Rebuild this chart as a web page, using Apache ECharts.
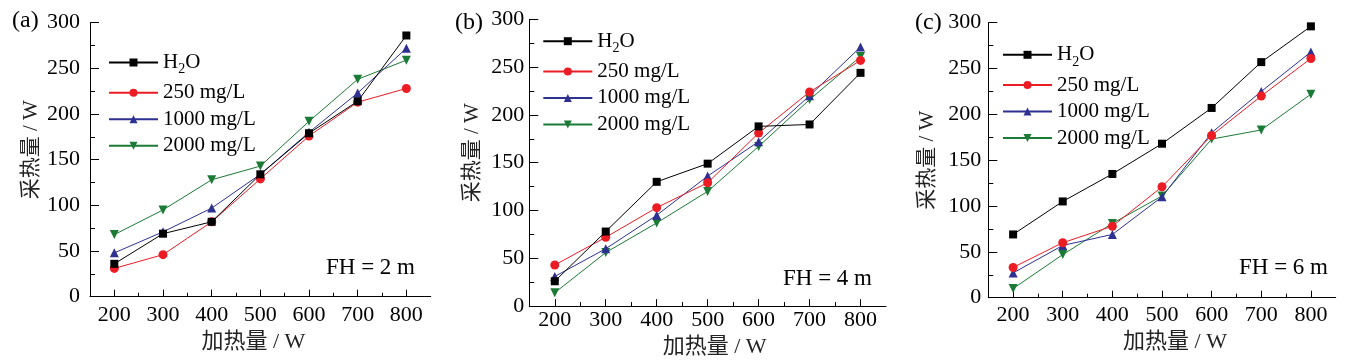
<!DOCTYPE html>
<html>
<head>
<meta charset="utf-8">
<script src="https://cdn.jsdelivr.net/npm/echarts@6/dist/echarts.min.js"></script>
<style>
  html, body { margin: 0; padding: 0; background: #fff; }
  #chart { width: 1367px; height: 363px; }
</style>
</head>
<body>
<div id="chart"></div>
<script>
// ---- data ----
const xValues = [200, 300, 400, 500, 600, 700, 800];
const xMinorTicks = [250, 350, 450, 550, 650, 750];
const seriesNames = ['H2O', '250 mg/L', '1000 mg/L', '2000 mg/L'];
const panelLabels = ['(a)', '(b)', '(c)'];
const fhLabels = ['FH = 2 m', 'FH = 4 m', 'FH = 6 m'];
const xTitle = '加热量 / W';
const yTitle = '采热量 / W';

// panel (a) FH = 2 m
const aH2O  = [36, 69, 82, 134, 179, 214, 286];
const a250  = [31, 46, 82, 129, 176, 213, 228];
const a1000 = [48, 71, 97, 134, 180, 223, 272];
const a2000 = [68, 95, 128, 143, 192, 238, 259];
// panel (b) FH = 4 m
const bH2O  = [26, 78, 130, 149, 188, 190, 244];
const b250  = [43, 72, 103, 129, 181, 224, 257];
const b1000 = [31, 60, 95, 136, 172, 220, 271];
const b2000 = [14, 56, 87, 120, 167, 216, 261];
// panel (c) FH = 6 m
const cH2O  = [69, 105, 135, 168, 207, 257, 296];
const c250  = [33, 60, 78, 121, 177, 220, 261];
const c1000 = [27, 57, 69, 110, 180, 225, 268];
const c2000 = [10, 47, 81, 111, 173, 183, 222];

const panelData = [
  [aH2O, a250, a1000, a2000],
  [bH2O, b250, b1000, b2000],
  [cH2O, c250, c1000, c2000]
];

// ---- layout / style ----
const SERIF = '"Liberation Serif", "Times New Roman", serif';
const MIXED = '"Liberation Serif", "Noto Sans CJK SC", serif';
const colors = ['#000000', '#ec1c24', '#2e3192', '#1b7a36'];
const symbols = ['rect', 'circle', 'triangle', 'triangle'];
const symbolRotates = [0, 0, 0, 180];
const symbolSizes = [8, 9, 9, 9];

const panels = [
  { left: 90,    top: 22.7, width: 340.7, height: 274,
    yLabelMargin: 10, xLabelMargin: 8, xNameGap: 35, xNamePad: [0, 14, 0, 0],
    yNameGap: 48, yNamePad: [0, 0, 0, 20],
    legLeft: 108, legTop: 52, labX: 12, labY: 23, fhX: 326, fhY: 269 },
  { left: 529.3, top: 19.3, width: 356.7, height: 287.7,
    yLabelMargin: 5, xLabelMargin: 3, xNameGap: 27, xNamePad: [0, 0, 0, 14],
    yNameGap: 46, yNamePad: [0, 0, 0, 20],
    legLeft: 542.3, legTop: 30.7, labX: 455, labY: 25, fhX: 783, fhY: 280 },
  { left: 988.3, top: 22.7, width: 347.4, height: 275,
    yLabelMargin: 7, xLabelMargin: 7, xNameGap: 33, xNamePad: [0, 0, 0, 26],
    yNameGap: 50, yNamePad: [0, 0, 0, 0],
    legLeft: 1002, legTop: 44.3, labX: 915, labY: 25, fhX: 1239, fhY: 269 }
];

const grid = [], xAxis = [], yAxis = [], series = [], legend = [], graphic = [];

panels.forEach((p, i) => {
  grid.push({ left: p.left, top: p.top, width: p.width, height: p.height, containLabel: false });

  xAxis.push({
    gridIndex: i, type: 'value', min: 150, max: 850, position: 'bottom',
    axisLine: { lineStyle: { color: '#000', width: 1 } },
    axisTick: { inside: true, length: 7, customValues: xValues, lineStyle: { color: '#000', width: 1 } },
    axisLabel: { customValues: xValues, margin: p.xLabelMargin, color: '#000', fontFamily: SERIF, fontSize: 22 },
    splitLine: { show: false },
    name: xTitle, nameLocation: 'middle', nameGap: p.xNameGap,
    nameTextStyle: { fontFamily: MIXED, fontSize: 22, color: '#222', padding: p.xNamePad }
  });
  xAxis.push({
    gridIndex: i, type: 'value', min: 150, max: 850, position: 'bottom', offset: 0,
    axisLine: { show: false },
    axisTick: { inside: true, length: 4, customValues: xMinorTicks, lineStyle: { color: '#000', width: 1 } },
    axisLabel: { show: false },
    splitLine: { show: false }
  });

  yAxis.push({
    gridIndex: i, type: 'value', min: 0, max: 300, interval: 50,
    axisLine: { show: true, lineStyle: { color: '#000', width: 1 } },
    axisTick: { show: true, inside: true, length: 9, lineStyle: { color: '#000', width: 1 } },
    minorTick: { show: true, splitNumber: 2, length: 5, lineStyle: { color: '#000', width: 1 } },
    axisLabel: { margin: p.yLabelMargin, color: '#000', fontFamily: SERIF, fontSize: 22 },
    splitLine: { show: false },
    name: yTitle, nameLocation: 'middle', nameGap: p.yNameGap, nameRotate: 90,
    nameTextStyle: { fontFamily: MIXED, fontSize: 21, color: '#222', padding: p.yNamePad }
  });

  panelData[i].forEach((vals, k) => {
    series.push({
      type: 'line', name: seriesNames[k],
      xAxisIndex: i * 2, yAxisIndex: i,
      data: xValues.map((x, j) => [x, vals[j]]),
      symbol: symbols[k], symbolSize: symbolSizes[k], symbolRotate: symbolRotates[k],
      showAllSymbol: true,
      lineStyle: { color: colors[k], width: 1 },
      itemStyle: { color: colors[k] },
      emphasis: { disabled: true },
      animation: false,
      z: 10 - k
    });
  });

  legend.push({
    orient: 'vertical', left: p.legLeft, top: p.legTop, padding: 0,
    itemWidth: 49, itemHeight: 10, itemGap: 5.5,
    selectedMode: false,
    data: seriesNames,
    formatter: function (name) {
      if (name === 'H2O') return '{h|H}{s|2}{h|O}';
      return '{n|' + name + '}';
    },
    textStyle: {
      fontFamily: SERIF, fontSize: 21, color: '#000',
      rich: {
        n: { fontFamily: SERIF, fontSize: 21, color: '#000', lineHeight: 22 },
        h: { fontFamily: SERIF, fontSize: 21, color: '#000', lineHeight: 28.5 },
        s: { fontFamily: SERIF, fontSize: 14, color: '#000', lineHeight: 19, verticalAlign: 'bottom' }
      }
    }
  });

  graphic.push({
    type: 'text', left: p.labX, top: p.labY - 14,
    style: { text: panelLabels[i], font: '24px ' + SERIF, fill: '#000' }
  });
  graphic.push({
    type: 'text', left: p.fhX, top: p.fhY - 13,
    style: { text: fhLabels[i], font: '23px ' + SERIF, fill: '#000' }
  });
});

const chart = echarts.init(document.getElementById('chart'), null, { renderer: 'canvas' });
chart.setOption({
  backgroundColor: '#fff',
  animation: false,
  grid, xAxis, yAxis, series, legend, graphic
});
</script>
</body>
</html>
